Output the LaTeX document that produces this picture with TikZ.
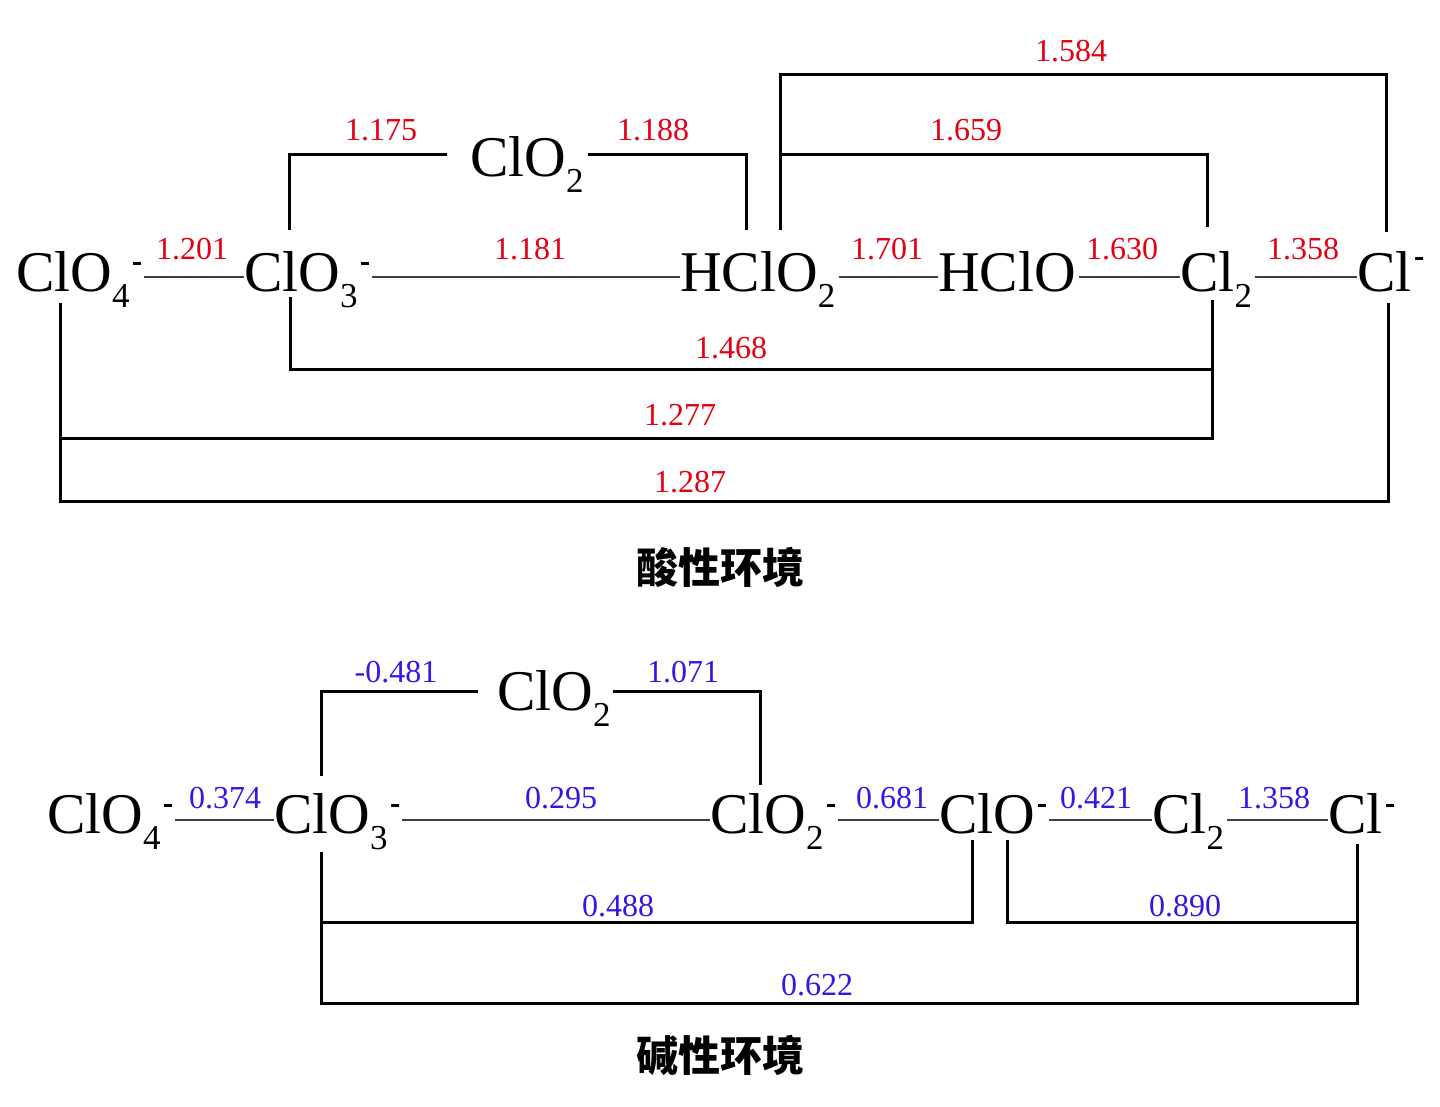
\documentclass[tikz,border=0pt]{standalone}
\usepackage{fontspec}
\setmainfont{Liberation Serif}
\newfontfamily\cjk{Noto Sans CJK SC}
\definecolor{numred}{RGB}{228,0,18}
\definecolor{numblue}{RGB}{52,22,230}
\newcommand\chsb[1]{\raisebox{-16pt}{\fontsize{35}{35}\selectfont #1}}
\newcommand\chsp[1][26pt]{\hspace{3pt}\rule[#1]{8pt}{2.8pt}}
\tikzset{
  sp/.style={inner sep=0pt, anchor=base west, font=\fontsize{57.6}{60}\selectfont},
  thin/.style={line width=1.4pt, black!75},
  br/.style={line width=3pt, black},
  rnum/.style={inner sep=0pt, anchor=base, text=numred, font=\fontsize{32}{34}\selectfont},
  bnum/.style={inner sep=0pt, anchor=base, text=numblue, font=\fontsize{32}{34}\selectfont},
  ttl/.style={inner sep=0pt, font=\cjk\bfseries\fontsize{42}{44}\selectfont}
}
\begin{document}
\begin{tikzpicture}[x=1pt,y=-1pt]
\useasboundingbox[fill=white] (0,0) rectangle (1440,1106);
% ---------------- acidic ----------------
\node[sp] (clo4a) at (16,291) {ClO\chsb{4}\chsp};
\node[sp] (clo3a) at (244,291) {ClO\chsb{3}\chsp};
\node[sp] (hclo2a) at (680,291) {HClO\chsb{2}};
\node[sp] (hcloa) at (938,291) {HClO};
\node[sp] (cl2a) at (1180,291) {Cl\chsb{2}};
\node[sp] (cla) at (1357,291) {Cl\chsp[31pt]};
\node[sp] (clo2a) at (470,176) {ClO\chsb{2}};
% straight connectors
\draw[thin] ([shift={(3,-14)}]clo4a.base east) -- ([shift={(0,-14)}]clo3a.base west);
\draw[thin] ([shift={(3,-14)}]clo3a.base east) -- ([shift={(0,-14)}]hclo2a.base west);
\draw[thin] ([shift={(3,-14)}]hclo2a.base east) -- ([shift={(0,-14)}]hcloa.base west);
\draw[thin] ([shift={(3,-14)}]hcloa.base east) -- ([shift={(0,-14)}]cl2a.base west);
\draw[thin] ([shift={(3,-14)}]cl2a.base east) -- ([shift={(0,-14)}]cla.base west);
% brackets above
\draw[br] ([shift={(45,-61)}]clo3a.base west) |- ([shift={(-23,-22)}]clo2a.base west);
\draw[br] ([shift={(4,-22)}]clo2a.base east) -| ([shift={(66,-61)}]hclo2a.base west);
\draw[br] ([shift={(100,-61)}]hclo2a.base west) -- ++(0,-76) -| ([shift={(27,-64)}]cl2a.base west);
\draw[br] ([shift={(100,-61)}]hclo2a.base west) -- ++(0,-156) -| ([shift={(29,-59)}]cla.base west);
% brackets below
\draw[br] ([shift={(46,6)}]clo3a.base west) -- ++(0,72) -| ([shift={(32,9)}]cl2a.base west);
\draw[br] ([shift={(44,12)}]clo4a.base west) -- ++(0,135) -| ([shift={(32,9)}]cl2a.base west);
\draw[br] ([shift={(44,12)}]clo4a.base west) -- ++(0,198) -| ([shift={(31,12)}]cla.base west);
% numbers
\node[rnum] (a1) at (192,259) {1.201};
\node[rnum] (a2) at (530,259) {1.181};
\node[rnum] (a3) at (887,259) {1.701};
\node[rnum] (a4) at (1122,259) {1.630};
\node[rnum] (a5) at (1303,259) {1.358};
\node[rnum] (a6) at (381,140) {1.175};
\node[rnum] (a7) at (653,140) {1.188};
\node[rnum] (a8) at (966,140) {1.659};
\node[rnum] (a9) at (1071,61) {1.584};
\node[rnum] (a10) at (731,358) {1.468};
\node[rnum] (a11) at (680,425) {1.277};
\node[rnum] (a12) at (690,492) {1.287};
\node[ttl] (ta) at (720,567) {酸性环境};
% ---------------- basic ----------------
\node[sp] (clo4b) at (47,833) {ClO\chsb{4}\chsp};
\node[sp] (clo3b) at (274,833) {ClO\chsb{3}\chsp};
\node[sp] (clo2b) at (710,833) {ClO\chsb{2}\chsp};
\node[sp] (clob) at (939,833) {ClO\chsp};
\node[sp] (cl2b) at (1152,833) {Cl\chsb{2}};
\node[sp] (clb) at (1328,833) {Cl\chsp};
\node[sp] (clo2m) at (497,710) {ClO\chsb{2}};
\draw[thin] ([shift={(3,-13)}]clo4b.base east) -- ([shift={(0,-13)}]clo3b.base west);
\draw[thin] ([shift={(3,-13)}]clo3b.base east) -- ([shift={(0,-13)}]clo2b.base west);
\draw[thin] ([shift={(3,-13)}]clo2b.base east) -- ([shift={(0,-13)}]clob.base west);
\draw[thin] ([shift={(3,-13)}]clob.base east) -- ([shift={(0,-13)}]cl2b.base west);
\draw[thin] ([shift={(3,-13)}]cl2b.base east) -- ([shift={(0,-13)}]clb.base west);
\draw[br] ([shift={(47,-57)}]clo3b.base west) |- ([shift={(-19,-19)}]clo2m.base west);
\draw[br] ([shift={(2,-19)}]clo2m.base east) -| ([shift={(50,-48)}]clo2b.base west);
\draw[br] ([shift={(47,19)}]clo3b.base west) -- ++(0,70) -| ([shift={(33,7)}]clob.base west);
\draw[br] ([shift={(68,7)}]clob.base west) -- ++(0,82) -| ([shift={(29,11)}]clb.base west);
\draw[br] ([shift={(47,19)}]clo3b.base west) -- ++(0,151) -| ([shift={(29,11)}]clb.base west);
\node[bnum] (b1) at (225,808) {0.374};
\node[bnum] (b2) at (561,808) {0.295};
\node[bnum] (b3) at (892,808) {0.681};
\node[bnum] (b4) at (1096,808) {0.421};
\node[bnum] (b5) at (1274,808) {1.358};
\node[bnum] (b6) at (396,682) {-0.481};
\node[bnum] (b7) at (683,682) {1.071};
\node[bnum] (b8) at (618,916) {0.488};
\node[bnum] (b9) at (1185,916) {0.890};
\node[bnum] (b10) at (817,995) {0.622};
\node[ttl] (tb) at (720,1055) {碱性环境};
\end{tikzpicture}
\end{document}
